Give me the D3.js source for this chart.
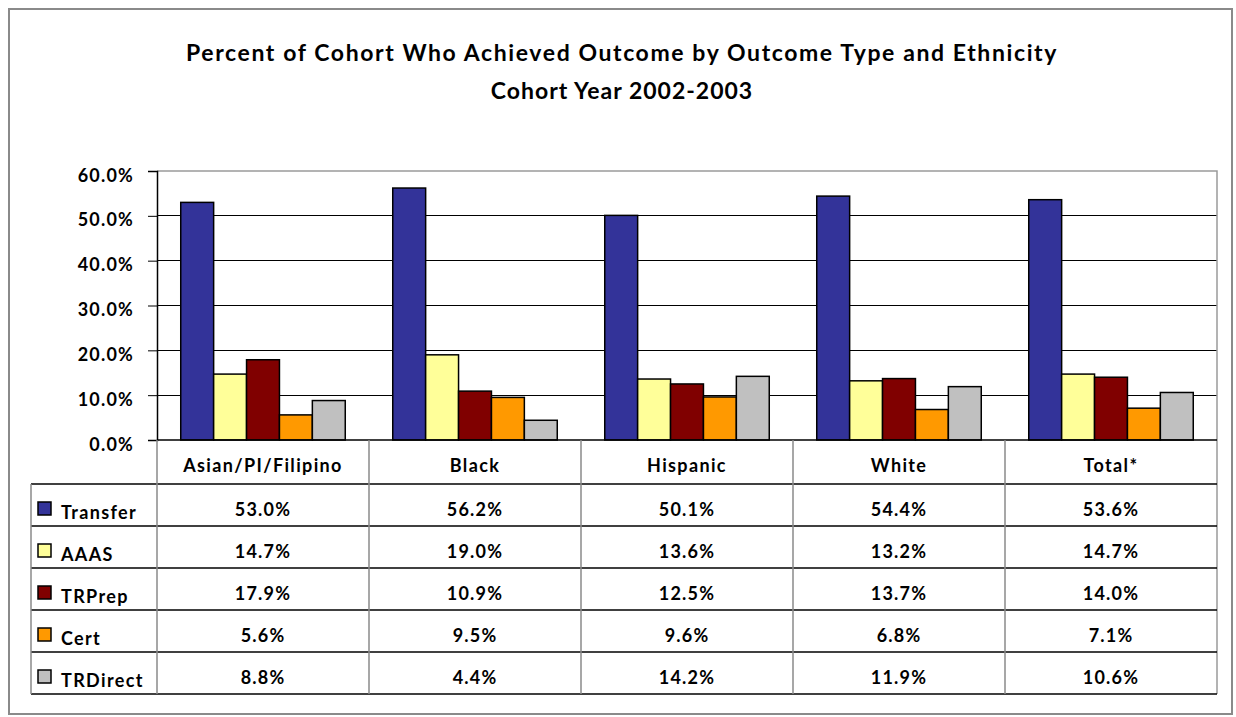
<!DOCTYPE html>
<html>
<head>
<meta charset="utf-8">
<script src="https://cdn.jsdelivr.net/npm/d3@7"></script>
<style>
  html, body { margin: 0; padding: 0; background: #ffffff; }
  svg { display: block; }
  text { font-family: Lato, "Open Sans", "DejaVu Sans", sans-serif; font-weight: 700; fill: #000; }
</style>
</head>
<body>
<svg id="chart" width="1236" height="717"></svg>
<script>
// Outcome rates by ethnicity, cohort year 2002-2003
const categories = ["Asian/PI/Filipino", "Black", "Hispanic", "White", "Total*"];
const seriesNames = ["Transfer", "AAAS", "TRPrep", "Cert", "TRDirect"];
const transfer = [53.0, 56.2, 50.1, 54.4, 53.6];
const aaas     = [14.7, 19.0, 13.6, 13.2, 14.7];
const trprep   = [17.9, 10.9, 12.5, 13.7, 14.0];
const cert     = [5.6, 9.5, 9.6, 6.8, 7.1];
const trdirect = [8.8, 4.4, 14.2, 11.9, 10.6];
const yTicks = [0, 10, 20, 30, 40, 50, 60];
const titleLines = ["Percent of Cohort Who Achieved Outcome by Outcome Type and Ethnicity", "Cohort Year 2002-2003"];

const seriesValues = [transfer, aaas, trprep, cert, trdirect];
const seriesColors = ["#333399", "#FFFF99", "#800000", "#FF9900", "#C0C0C0"];
const fmt = v => v.toFixed(1) + "%";

const svg = d3.select("#chart");

// layout
const plot = { left: 157, right: 1217, top: 171, bottom: 440 };
const headerH = 44, rowH = 42;
const tableLeft = 31;
const tableBottom = plot.bottom + headerH + rowH * seriesNames.length;
const bodySize = "18px", bodySpacing = "1.35px";

// scales
const x0 = d3.scaleBand().domain(categories).range([plot.left, plot.right]);
const bw = x0.bandwidth();
const x1 = d3.scaleBand().domain(seriesNames).range([bw * 0.112, bw * 0.888]);
const y = d3.scaleLinear().domain([0, 60]).range([plot.bottom, plot.top]);
const color = d3.scaleOrdinal().domain(seriesNames).range(seriesColors);

// outer frame
svg.append("rect")
  .attr("x", 9).attr("y", 9).attr("width", 1223).attr("height", 705)
  .attr("fill", "#fff").attr("stroke", "#8a8a8a").attr("stroke-width", 2);

// title
svg.append("g").selectAll("text").data(titleLines).join("text")
  .attr("x", 622).attr("y", (d, i) => 61 + i * 38)
  .attr("text-anchor", "middle")
  .style("font-size", "23px")
  .style("letter-spacing", (d, i) => i === 0 ? "1.6px" : "1.0px")
  .text(d => d);

// gridlines
svg.append("g").selectAll("line").data(yTicks.filter(t => t > 0 && t < 60)).join("line")
  .attr("x1", plot.left).attr("x2", plot.right)
  .attr("y1", d => y(d)).attr("y2", d => y(d))
  .attr("stroke", "#000").attr("stroke-width", 1).attr("shape-rendering", "crispEdges");

// plot frame top/right (grey)
svg.append("path")
  .attr("d", `M${plot.left},${plot.top}H${plot.right}V${tableBottom}`)
  .attr("fill", "none").attr("stroke", "#9a9a9a").attr("stroke-width", 1.5);

// bars
const groups = svg.append("g").selectAll("g").data(categories).join("g")
  .attr("transform", d => `translate(${x0(d)},0)`);
groups.selectAll("rect")
  .data((c, ci) => seriesNames.map((s, si) => ({ s, v: seriesValues[si][ci] })))
  .join("rect")
  .attr("x", d => x1(d.s))
  .attr("width", x1.bandwidth())
  .attr("y", d => y(d.v))
  .attr("height", d => y(0) - y(d.v))
  .attr("fill", d => color(d.s))
  .attr("stroke", "#000").attr("stroke-width", 1.5);

// y axis
const yAxis = d3.axisLeft(y).tickValues(yTicks).tickFormat(d => fmt(d)).tickSize(9).tickPadding(14);
const ag = svg.append("g").attr("transform", `translate(${plot.left},0)`).call(yAxis);
ag.select(".domain").attr("stroke", "#000").attr("stroke-width", 1.5);
ag.selectAll(".tick line").attr("stroke", "#000");
ag.selectAll(".tick text")
  .attr("dy", "10px")
  .style("font-family", "Lato, 'Open Sans', sans-serif")
  .style("font-size", bodySize).style("font-weight", 700)
  .style("letter-spacing", "1.2px");

// data table
const table = svg.append("g");
// horizontal lines
const rowLines = d3.range(seriesNames.length + 1).map(i => plot.bottom + headerH + i * rowH);
table.selectAll("line.h").data(rowLines).join("line").attr("class", "h")
  .attr("x1", tableLeft).attr("x2", plot.right)
  .attr("y1", d => d).attr("y2", d => d)
  .attr("stroke", "#000").attr("stroke-width", 1.5);
// axis baseline across the header
table.append("line")
  .attr("x1", plot.left).attr("x2", plot.right).attr("y1", plot.bottom).attr("y2", plot.bottom)
  .attr("stroke", "#000").attr("stroke-width", 1.5);
// vertical lines
const colLines = categories.slice(1).map(c => x0(c));
table.selectAll("line.v").data(colLines).join("line").attr("class", "v")
  .attr("x1", d => d).attr("x2", d => d)
  .attr("y1", plot.bottom).attr("y2", tableBottom)
  .attr("stroke", "#8a8a8a").attr("stroke-width", 1.5);
table.append("line")
  .attr("x1", plot.left).attr("x2", plot.left).attr("y1", plot.bottom).attr("y2", tableBottom)
  .attr("stroke", "#8a8a8a").attr("stroke-width", 1.5);
table.append("line")
  .attr("x1", tableLeft).attr("x2", tableLeft).attr("y1", plot.bottom + headerH).attr("y2", tableBottom)
  .attr("stroke", "#8a8a8a").attr("stroke-width", 1.5);

// header labels
table.selectAll("text.cat").data(categories).join("text").attr("class", "cat")
  .attr("x", d => x0(d) + bw / 2)
  .attr("y", plot.bottom + 32)
  .attr("text-anchor", "middle")
  .style("font-size", bodySize).style("letter-spacing", bodySpacing)
  .text(d => d);

// rows: legend key, series name, one value per category
const rows = table.selectAll("g.row").data(seriesNames).join("g").attr("class", "row")
  .attr("transform", (d, i) => `translate(0,${plot.bottom + headerH + i * rowH})`);
rows.append("rect")
  .attr("x", 38).attr("y", 18).attr("width", 13).attr("height", 13)
  .attr("fill", d => color(d)).attr("stroke", "#000").attr("stroke-width", 1.5);
rows.append("text")
  .attr("x", 61).attr("y", 35)
  .style("font-size", bodySize).style("letter-spacing", bodySpacing)
  .text(d => d);
rows.selectAll("text.val")
  .data((s, si) => categories.map((c, ci) => ({ c, v: seriesValues[si][ci] })))
  .join("text").attr("class", "val")
  .attr("x", d => x0(d.c) + bw / 2)
  .attr("y", 32)
  .attr("text-anchor", "middle")
  .style("font-size", bodySize).style("letter-spacing", "1.2px")
  .text(d => fmt(d.v));
</script>
</body>
</html>
